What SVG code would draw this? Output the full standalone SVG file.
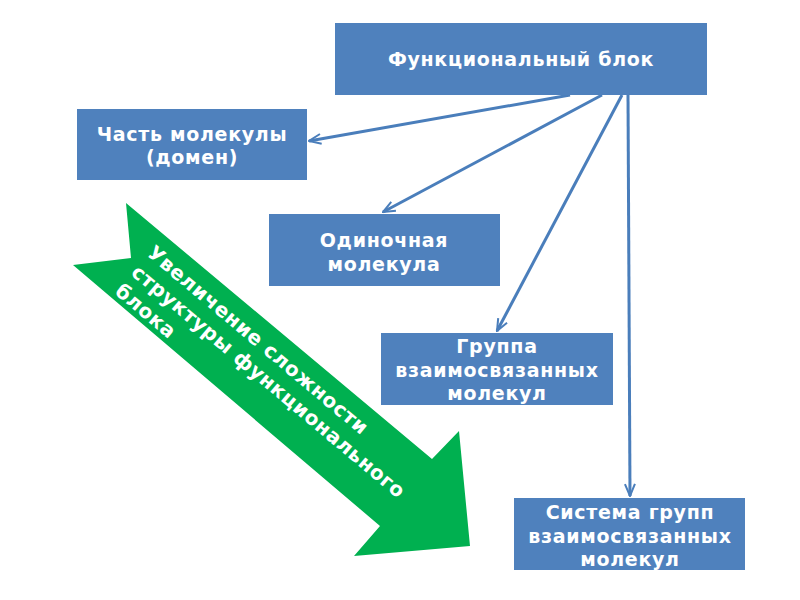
<svg xmlns="http://www.w3.org/2000/svg" width="800" height="600" viewBox="0 0 800 600">
<defs>
<style>
.box{fill:#4f81bd;}
.lbl{font-family:"DejaVu Sans",sans-serif;font-weight:bold;font-size:19px;letter-spacing:0.7px;fill:#ffffff;text-anchor:middle;}
.conn{stroke:#4a7ebb;stroke-width:3;fill:none;}
.big{font-family:"DejaVu Sans",sans-serif;font-weight:bold;font-size:20px;letter-spacing:0.5px;fill:#ffffff;}
</style>
<marker id="arr" viewBox="0 0 14 12" refX="13" refY="6" markerWidth="14" markerHeight="12" markerUnits="userSpaceOnUse" orient="auto">
<path d="M1,1 L13,6 L1,11 M13,6 L5,6" stroke="#4a7ebb" stroke-width="2" fill="none"/>
</marker>
</defs>
<rect width="800" height="600" fill="#ffffff"/>
<g id="growth-arrow">
<polygon points="126,203 432,459 459,431 470,546 354,556 380,526 73,265 131,258" fill="#00b050"/>
<text class="big" transform="translate(146,255) rotate(40)"><tspan x="0" y="0">Увеличение сложности</tspan><tspan x="0" y="25">структуры функционального</tspan><tspan x="0" y="50">блока</tspan></text>
</g>
<g id="connectors">
<line class="conn" x1="570" y1="95" x2="309" y2="141" marker-end="url(#arr)"/>
<line class="conn" x1="602" y1="95" x2="383" y2="212" marker-end="url(#arr)"/>
<line class="conn" x1="622" y1="95" x2="497" y2="331" marker-end="url(#arr)"/>
<line class="conn" x1="628" y1="95" x2="630" y2="496" marker-end="url(#arr)"/>
</g>
<g id="n-func">
<rect class="box" x="335" y="23" width="372" height="72"/>
<text class="lbl" x="521" y="66">Функциональный блок</text>
</g>
<g id="n-part">
<rect class="box" x="77" y="109" width="230" height="71"/>
<text class="lbl" x="192" y="141">Часть молекулы</text>
<text class="lbl" x="192" y="164">(домен)</text>
</g>
<g id="n-single">
<rect class="box" x="269" y="214" width="231" height="72"/>
<text class="lbl" x="384" y="247">Одиночная</text>
<text class="lbl" x="384" y="271">молекула</text>
</g>
<g id="n-group">
<rect class="box" x="381" y="333" width="232" height="72"/>
<text class="lbl" x="497" y="353">Группа</text>
<text class="lbl" x="497" y="377">взаимосвязанных</text>
<text class="lbl" x="497" y="400">молекул</text>
</g>
<g id="n-system">
<rect class="box" x="514" y="498" width="231" height="72"/>
<text class="lbl" x="630" y="519">Система групп</text>
<text class="lbl" x="630" y="543">взаимосвязанных</text>
<text class="lbl" x="630" y="566">молекул</text>
</g>
</svg>
